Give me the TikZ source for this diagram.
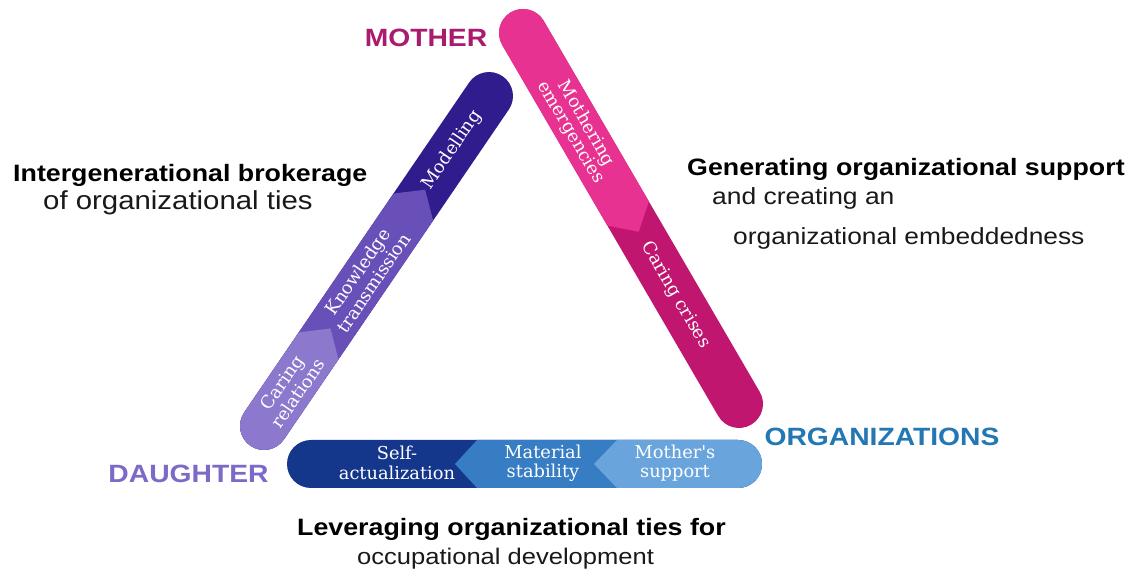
\documentclass[tikz,border=0pt]{standalone}
\usepackage{fontspec}
\newfontfamily\lab[FakeStretch=1.13]{Liberation Sans}
\newfontfamily\slab{DejaVu Serif}
\definecolor{plight}{HTML}{8C78CD}
\definecolor{pmed}{HTML}{6950B9}
\definecolor{pdark}{HTML}{301C8C}
\definecolor{klight}{HTML}{E83291}
\definecolor{kdark}{HTML}{C01670}
\definecolor{blight}{HTML}{69A5DC}
\definecolor{bmed}{HTML}{377DC3}
\definecolor{bdark}{HTML}{14378C}
\definecolor{cmother}{HTML}{AA1A6E}
\definecolor{cdaughter}{HTML}{7D69C8}
\definecolor{corg}{HTML}{2378B4}
\newcommand\chevseg[3]{\fill[#1] (-40,-40) -- (#2,-40) -- (#2,-24) -- ({#2+#3},0) -- (#2,24) -- (#2,40) -- (-40,40) -- cycle;}
\tikzset{
  bartext/.style={font=\slab\fontsize{17.8}{19.5}\selectfont, text=white, align=center, inner sep=0pt},
  rolelabel/.style={font=\lab\bfseries\fontsize{25}{28}\selectfont, inner sep=0pt, anchor=base},
  boldtext/.style={font=\lab\bfseries\fontsize{23.7}{26}\selectfont, text=black, inner sep=0pt, anchor=base west},
  plaintext/.style={text=black!90, inner sep=0pt, anchor=base west}
}
\begin{document}
\begin{tikzpicture}[x=1pt,y=1pt]
\useasboundingbox (0,0) rectangle (1133,575);
\fill[white] (0,0) rectangle (1133,575);

% left (purple) bar
\begin{scope}[shift={(264,149)}, rotate=55.71]
  \begin{scope}
    \clip[rounded corners=24pt] (-24,-24) rectangle (423.4,24);
    \fill[pdark] (-40,-40) rectangle (440,40);
    \chevseg{pmed}{265}{21}
    \chevseg{plight}{97}{21}
  \end{scope}
  \node[bartext, transform shape] (caring) at (46,0) {Caring\\relations};
  \node[bartext, transform shape] (knowledge) at (180,0) {Knowledge\\transmission};
  \node[bartext, transform shape] (modelling) at (334,0) {Modelling};
\end{scope}

% right (pink) bar
\begin{scope}[shift={(523,542)}, rotate=-59.79]
  \begin{scope}
    \clip[rounded corners=24pt] (-24,-24) rectangle (453.3,24);
    \fill[kdark] (-40,-40) rectangle (470,40);
    \chevseg{klight}{209}{21}
  \end{scope}
  \node[bartext, transform shape, font=\slab\fontsize{17.8}{17.5}\selectfont] (mothering) at (110,0) {Mothering\\emergencies};
  \node[bartext, transform shape] (crises) at (303,0) {Caring crises};
\end{scope}

% bottom (blue) bar
\begin{scope}[shift={(738,111)}, rotate=180]
  \clip[rounded corners=24pt] (-24,-24) rectangle (451,24);
  \fill[bdark] (-40,-40) rectangle (470,40);
  \chevseg{bmed}{261}{22}
  \chevseg{blight}{121}{23}
\end{scope}
\node[bartext] (self) at (397,112) {Self-\\actualization};
\node[bartext] (material) at (543,112) {Material\\stability};
\node[bartext] (support) at (675,112) {Mother\textquotesingle s\\support};

% role labels
\node[rolelabel, text=cmother] (mother) at (426,528.3) {MOTHER};
\node[rolelabel, text=cdaughter] (daughter) at (188.5,92) {DAUGHTER};
\node[rolelabel, text=corg] (org) at (882,129) {ORGANIZATIONS};

% descriptive texts
\node[boldtext] (t1a) at (13,393.3) {Intergenerational brokerage};
\node[plaintext, font=\lab\fontsize{26}{28}\selectfont] (t1b) at (43,365) {of organizational ties};
\node[boldtext] (t2a) at (687,399) {Generating organizational support};
\node[plaintext, font=\lab\fontsize{23.4}{26}\selectfont] (t2b) at (712,370) {and creating an};
\node[plaintext, font=\lab\fontsize{23.3}{26}\selectfont] (t2c) at (733,330) {organizational embeddedness};
\node[boldtext] (t3a) at (297,39) {Leveraging organizational ties for};
\node[plaintext, font=\lab\fontsize{22.6}{26}\selectfont] (t3b) at (357,10) {occupational development};
\end{tikzpicture}
\end{document}
